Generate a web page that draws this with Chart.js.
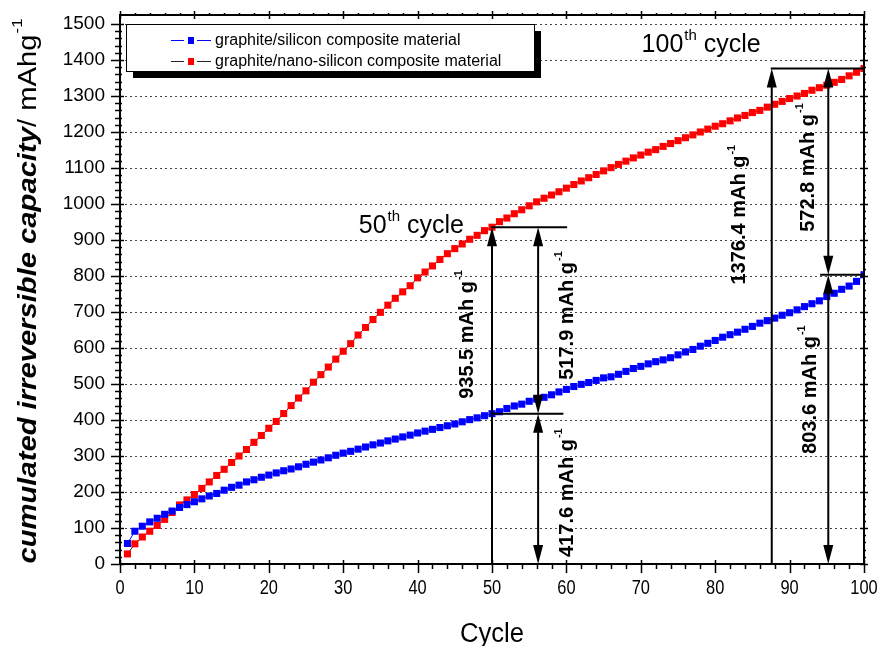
<!DOCTYPE html>
<html>
<head>
<meta charset="utf-8">
<script src="https://cdn.jsdelivr.net/npm/chart.js@4/dist/chart.umd.min.js"></script>
<style>
  html, body { margin: 0; padding: 0; background: #fff; }
  #wrap { width: 883px; height: 646px; }
</style>
</head>
<body>
<div id="wrap"><canvas id="c" width="883" height="646"></canvas></div>
<script>
// Cycle numbers
const cycles = [
  1, 2, 3, 4, 5, 6, 7, 8, 9, 10,
  11, 12, 13, 14, 15, 16, 17, 18, 19, 20,
  21, 22, 23, 24, 25, 26, 27, 28, 29, 30,
  31, 32, 33, 34, 35, 36, 37, 38, 39, 40,
  41, 42, 43, 44, 45, 46, 47, 48, 49, 50,
  51, 52, 53, 54, 55, 56, 57, 58, 59, 60,
  61, 62, 63, 64, 65, 66, 67, 68, 69, 70,
  71, 72, 73, 74, 75, 76, 77, 78, 79, 80,
  81, 82, 83, 84, 85, 86, 87, 88, 89, 90,
  91, 92, 93, 94, 95, 96, 97, 98, 99, 100
];

// Cumulated irreversible capacity, mAh/g
const graphiteSilicon = [
  57, 91, 105, 117, 127, 138, 147, 157, 165, 173,
  181, 189, 196, 205, 213, 219, 228, 234, 241, 247,
  253, 259, 264, 270, 277, 283, 289, 295, 302, 308,
  313, 319, 325, 331, 336, 342, 347, 353, 358, 364,
  369, 374, 379, 384, 389, 395, 401, 406, 412, 417.6,
  423, 432, 439, 444, 452, 458, 463, 470, 478, 485,
  493, 499, 504, 510, 517, 520, 527, 535, 543, 549,
  556, 562, 567, 573, 581, 589, 596, 605, 613, 621,
  630, 637, 644, 652, 660, 669, 676, 683, 691, 698,
  706, 715, 723, 731, 743, 752, 763, 772, 785, 803.6
];

const graphiteNanoSilicon = [
  28, 56, 75, 91, 107, 124, 143, 164, 178, 193,
  210, 228, 246, 263, 282, 300, 318, 338, 357, 377,
  396, 418, 440, 461, 481, 505, 526, 547, 569, 591,
  612, 636, 657, 679, 699, 719, 738, 756, 773, 795,
  811, 828, 846, 862, 876, 889, 902, 913, 926, 935.5,
  951, 961, 973, 984, 995, 1006, 1016, 1025, 1034, 1044,
  1054, 1064, 1073, 1082, 1092, 1101, 1110, 1119, 1128, 1136,
  1144, 1151, 1160, 1168, 1176, 1184, 1192, 1200, 1208, 1216,
  1223, 1231, 1239, 1246, 1254, 1260, 1269, 1277, 1285, 1293,
  1300, 1307, 1316, 1323, 1330, 1338, 1346, 1356, 1366, 1376.4
];

const seriesNames = [
  'graphite/silicon composite material',
  'graphite/nano-silicon composite material'
];

// Axis tick values
const xTickValues = [0, 10, 20, 30, 40, 50, 60, 70, 80, 90, 100];
const yTickValues = [0, 100, 200, 300, 400, 500, 600, 700, 800, 900, 1000, 1100, 1200, 1300, 1400, 1500];

// Marked cycles and their capacities
const markedCycles = [50, 100];
const siliconAtMarks = [417.6, 803.6];
const nanoAtMarks = [935.5, 1376.4];

const FONT = "'Liberation Sans', Arial, Helvetica, sans-serif";

function toPoints(values) {
  return cycles.map((c, i) => ({ x: c, y: values[i] }));
}

// text with a "-1" superscript, optionally rotated
function textWithSup(ctx, main, sup, cx, cy, font, supFont, rot, supRise) {
  ctx.save();
  ctx.translate(cx, cy);
  if (rot) ctx.rotate(rot);
  ctx.font = font;
  const w1 = ctx.measureText(main).width;
  ctx.font = supFont;
  const w2 = ctx.measureText(sup).width;
  const start = -(w1 + w2) / 2;
  ctx.fillStyle = '#000';
  ctx.textBaseline = 'middle';
  ctx.textAlign = 'left';
  ctx.font = font;
  ctx.fillText(main, start, 0);
  ctx.font = supFont;
  ctx.fillText(sup, start + w1 + 1, -supRise);
  ctx.restore();
}

function arrowHead(ctx, x, y, dir) {
  // dir = -1: pointing up (tip at y); dir = 1: pointing down
  const len = 19, half = 5;
  ctx.beginPath();
  ctx.moveTo(x, y);
  ctx.lineTo(x - half, y - dir * len);
  ctx.lineTo(x + half, y - dir * len);
  ctx.closePath();
  ctx.fill();
}

const decorations = {
  id: 'decorations',
  beforeDatasetsDraw(chart) {
    const { ctx, chartArea: a, scales: { y } } = chart;
    ctx.save();
    ctx.strokeStyle = '#444';
    ctx.lineWidth = 1;
    ctx.setLineDash([2, 3]);
    for (const t of y.ticks) {
      if (t.value <= 0) continue;
      const py = Math.round(y.getPixelForValue(t.value)) + 0.5;
      ctx.beginPath();
      ctx.moveTo(a.left, py);
      ctx.lineTo(a.right, py);
      ctx.stroke();
    }
    ctx.restore();
  },
  afterDatasetsDraw(chart) {
    const { ctx, chartArea: a, scales: { x, y } } = chart;
    ctx.save();

    // frame
    ctx.strokeStyle = '#000';
    ctx.lineWidth = 2;
    ctx.strokeRect(a.left, a.top, a.right - a.left, a.bottom - a.top);

    // axis tick marks
    ctx.lineWidth = 1.5;
    ctx.beginPath();
    for (let v = 0; v <= 1500; v += 20) {
      const py = Math.round(y.getPixelForValue(v)) + 0.5;
      const major = v % 100 === 0;
      ctx.moveTo(a.left - (major ? 9 : 5), py);
      ctx.lineTo(a.left + (major ? 4 : 2), py);
      ctx.moveTo(a.right + (major ? 4 : 2), py);
      ctx.lineTo(a.right - (major ? 4 : 0), py);
    }
    for (let v = 0; v <= 100; v += 2) {
      const px = Math.round(x.getPixelForValue(v)) + 0.5;
      const major = v % 10 === 0;
      ctx.moveTo(px, a.bottom - (major ? 4 : 0));
      ctx.lineTo(px, a.bottom + (major ? 9 : 5));
      ctx.moveTo(px, a.top + (major ? 4 : 0));
      ctx.lineTo(px, a.top - (major ? 4 : 2));
    }
    ctx.stroke();

    // x tick labels, slightly condensed
    ctx.fillStyle = '#000';
    ctx.font = '20px ' + FONT;
    ctx.textAlign = 'center';
    ctx.textBaseline = 'top';
    for (const t of x.ticks) {
      ctx.save();
      ctx.translate(x.getPixelForValue(t.value), a.bottom + 14);
      ctx.scale(0.82, 1);
      ctx.fillText(String(t.value), 0, 0);
      ctx.restore();
    }

    // capacity markers at the 50th and 100th cycle
    const X = v => x.getPixelForValue(v);
    const Y = v => y.getPixelForValue(v);
    const y0 = Y(0);
    ctx.strokeStyle = '#000';
    ctx.fillStyle = '#000';
    ctx.lineWidth = 2;

    const layouts = [
      { total: 50, split: 56.2, topEnd: 60.1, midStart: 50, midEnd: 59.6,
        totalLabel: [-25, 636], diffLabel: [29, 689], silLabel: [29, 197] },
      { total: 87.6, split: 95.2, topEnd: 100, midStart: 94.1, midEnd: 100,
        totalLabel: [-32, 969], diffLabel: [-20, 1100], silLabel: [-18, 483] }
    ];

    layouts.forEach((L, i) => {
      const nano = nanoAtMarks[i], sil = siliconAtMarks[i];
      const xt = X(L.total), xs = X(L.split);
      const yn = Y(nano), ysl = Y(sil);

      // horizontal reference lines
      ctx.beginPath();
      ctx.moveTo(xt - 1, yn);
      ctx.lineTo(X(L.topEnd), yn);
      ctx.moveTo(X(L.midStart), ysl);
      ctx.lineTo(X(L.midEnd), ysl);
      ctx.stroke();

      // total arrow
      ctx.beginPath();
      ctx.moveTo(xt, y0);
      ctx.lineTo(xt, yn + 10);
      ctx.stroke();
      arrowHead(ctx, xt, yn, -1);

      // split arrows
      ctx.beginPath();
      ctx.moveTo(xs, yn + 10);
      ctx.lineTo(xs, ysl - 10);
      ctx.moveTo(xs, ysl + 10);
      ctx.lineTo(xs, y0 - 10);
      ctx.stroke();
      arrowHead(ctx, xs, yn, -1);
      arrowHead(ctx, xs, ysl, 1);
      arrowHead(ctx, xs, ysl, -1);
      arrowHead(ctx, xs, y0, 1);

      const bold = 'bold 20px ' + FONT, supB = 'bold 11px ' + FONT;
      const rot = -Math.PI / 2;
      textWithSup(ctx, nano.toFixed(1) + ' mAh g', '-1', xt + L.totalLabel[0], Y(L.totalLabel[1]), bold, supB, rot, 8);
      textWithSup(ctx, (nano - sil).toFixed(1) + ' mAh g', '-1', xs + L.diffLabel[0], Y(L.diffLabel[1]), bold, supB, rot, 8);
      textWithSup(ctx, sil.toFixed(1) + ' mAh g', '-1', xs + L.silLabel[0], Y(L.silLabel[1]), bold, supB, rot, 8);
    });

    // cycle captions
    function caption(num, rightX, baseY) {
      const big = '25px ' + FONT, small = '15px ' + FONT;
      ctx.font = big;
      const wn = ctx.measureText(String(num)).width;
      const wc = ctx.measureText(' cycle').width;
      ctx.font = small;
      const ws = ctx.measureText('th').width;
      const sx = rightX - (wn + ws + wc + 1);
      ctx.textAlign = 'left';
      ctx.textBaseline = 'alphabetic';
      ctx.font = big;
      ctx.fillText(String(num), sx, baseY);
      ctx.font = small;
      ctx.fillText('th', sx + wn + 1, baseY - 12);
      ctx.font = big;
      ctx.fillText(' cycle', sx + wn + ws + 1, baseY);
    }
    caption(markedCycles[0], X(50) - 28, Y(nanoAtMarks[0]) + 6);
    caption(markedCycles[1], X(87.6) - 11, Y(nanoAtMarks[1]) - 16);

    // legend box with drop shadow
    const lx = 126, ly = 24, lw = 408, lh = 47;
    ctx.fillStyle = '#000';
    ctx.fillRect(lx + 7, ly + 7, lw, lh);
    ctx.fillStyle = '#fff';
    ctx.fillRect(lx, ly, lw, lh);
    ctx.lineWidth = 1;
    ctx.strokeStyle = '#000';
    ctx.strokeRect(lx + 0.5, ly + 0.5, lw, lh);
    chart.data.datasets.forEach((ds, i) => {
      const ry = ly + 16 + i * 21;
      ctx.strokeStyle = ds.borderColor;
      ctx.lineWidth = 1;
      ctx.beginPath();
      ctx.moveTo(171, ry + 0.5);
      ctx.lineTo(211, ry + 0.5);
      ctx.stroke();
      ctx.fillStyle = '#fff';
      ctx.fillRect(184, ry - 4, 13, 9);
      ctx.fillStyle = ds.pointBackgroundColor;
      ctx.fillRect(188, ry - 3, 6, 7);
      ctx.fillStyle = '#000';
      ctx.font = '16px ' + FONT;
      ctx.textAlign = 'left';
      ctx.textBaseline = 'middle';
      ctx.fillText(ds.label, 215, ry + 1);
    });

    ctx.restore();
  },
  afterDraw(chart) {
    const { ctx, chartArea: a } = chart;
    ctx.save();
    ctx.fillStyle = '#000';
    // x title
    ctx.save();
    ctx.font = '27px ' + FONT;
    ctx.textAlign = 'center';
    ctx.textBaseline = 'alphabetic';
    ctx.translate((a.left + a.right) / 2, 642);
    ctx.scale(0.95, 1);
    ctx.fillText('Cycle', 0, 0);
    ctx.restore();

    // y title: italic bold quantity, plain unit
    const f1 = 'italic bold 26px ' + FONT, f2 = '26px ' + FONT, f3 = '15px ' + FONT;
    const t1 = 'cumulated irreversible capacity', t2 = '/ mAhg', t3 = '-1';
    ctx.font = f1; const w1 = ctx.measureText(t1).width;
    ctx.font = f2; const w2 = ctx.measureText(t2).width;
    ctx.font = f3; const w3 = ctx.measureText(t3).width;
    const total = w1 + w2 + w3 + 1;
    const stretch = 545 / total;
    ctx.translate(36, 291);
    ctx.rotate(-Math.PI / 2);
    ctx.scale(stretch, 1);
    const s = -total / 2;
    ctx.textAlign = 'left';
    ctx.textBaseline = 'alphabetic';
    ctx.font = f1; ctx.fillText(t1, s, 0);
    ctx.font = f2; ctx.fillText(t2, s + w1, 0);
    ctx.font = f3; ctx.fillText(t3, s + w1 + w2 + 1, -14);
    ctx.restore();
  }
};

new Chart(document.getElementById('c'), {
  type: 'line',
  data: {
    datasets: [
      {
        label: seriesNames[0],
        data: toPoints(graphiteSilicon),
        borderColor: '#0000ff',
        borderWidth: 1,
        pointStyle: 'rect',
        pointRadius: 5,
        pointBorderWidth: 0,
        pointBackgroundColor: '#0000ff',
        pointHoverRadius: 5,
        tension: 0
      },
      {
        label: seriesNames[1],
        data: toPoints(graphiteNanoSilicon),
        borderColor: '#222222',
        borderWidth: 1,
        pointStyle: 'rect',
        pointRadius: 5,
        pointBorderWidth: 0,
        pointBackgroundColor: '#ff0000',
        pointHoverRadius: 5,
        tension: 0
      }
    ]
  },
  options: {
    responsive: false,
    animation: false,
    events: [],
    layout: { padding: { top: 15, right: 19, left: 0, bottom: 0 } },
    plugins: { legend: { display: false }, tooltip: { enabled: false }, title: { display: false } },
    scales: {
      x: {
        type: 'linear',
        min: 0, max: 100,
        grid: { display: false, drawTicks: false },
        border: { display: false },
        ticks: { display: false },
        afterBuildTicks(scale) { scale.ticks = xTickValues.map(v => ({ value: v })); },
        afterFit(scale) {
          scale.height = 82;
          scale.paddingLeft = 0; scale.paddingRight = 0;
        }
      },
      y: {
        type: 'linear',
        min: 0, max: 1525,
        grid: { display: false, drawTicks: false },
        border: { display: false },
        ticks: {
          padding: 15, color: '#000', font: { family: FONT, size: 19 },
          callback: v => String(v)
        },
        afterBuildTicks(scale) { scale.ticks = yTickValues.map(v => ({ value: v })); },
        afterFit(scale) {
          scale.width = 120;
          scale.paddingTop = 0; scale.paddingBottom = 0;
        }
      }
    }
  },
  plugins: [decorations]
});
</script>
</body>
</html>
